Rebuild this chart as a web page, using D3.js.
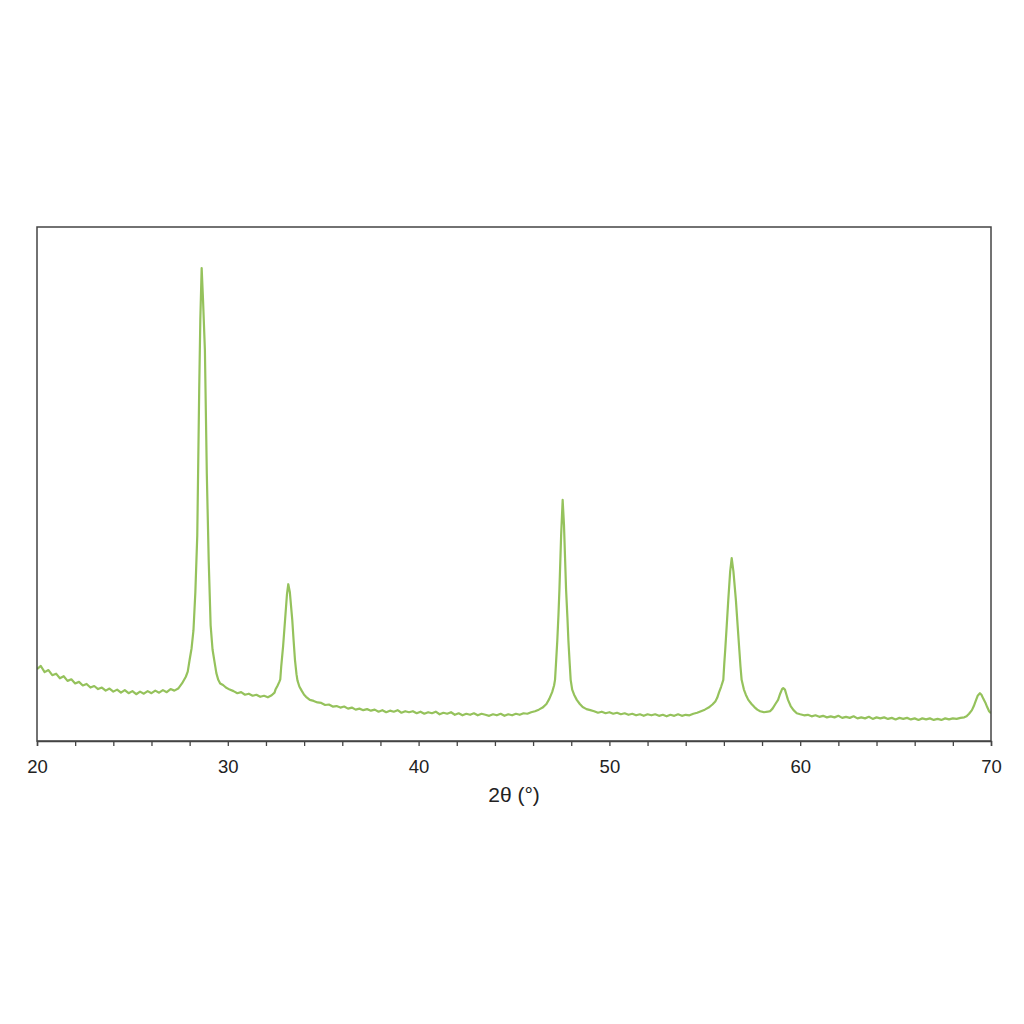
<!DOCTYPE html>
<html>
<head>
<meta charset="utf-8">
<script src="https://cdn.jsdelivr.net/npm/d3@7"></script>
<style>
  body { margin: 0; background: #fff; }
  svg { display: block; }
  text { font-family: "Liberation Sans", Arial, Helvetica, sans-serif; fill: #222; }
</style>
</head>
<body>
<svg id="chart" width="1024" height="1024"></svg>
<script>
// 2θ (degrees)
const twoTheta = [
  20.0,20.2,20.4,20.6,20.8,21.0,21.2,21.4,21.6,21.8,22.0,22.2,22.4,22.6,22.8,23.0,23.2,23.4,23.6,23.8,
  24.0,24.2,24.4,24.6,24.8,25.0,25.2,25.4,25.6,25.8,26.0,26.2,26.4,26.6,26.8,27.0,27.2,27.4,27.6,27.8,
  27.9,28.0,28.1,28.2,28.3,28.4,28.5,28.56,28.63,28.7,28.8,28.9,29.0,29.1,29.2,29.3,29.4,29.5,29.6,29.75,
  29.9,30.1,30.3,30.5,30.7,30.9,31.1,31.3,31.5,31.7,31.9,32.1,32.3,32.45,
  32.5,32.6,32.7,32.75,32.8,32.9,33.0,33.1,33.17,33.25,33.38,33.45,33.52,33.6,33.65,33.75,33.87,34.0,34.1,
  34.3,34.5,34.7,34.9,35.1,35.3,35.5,35.7,35.9,36.1,36.3,36.5,36.7,36.9,37.1,37.3,37.5,37.7,37.9,38.1,
  38.3,38.5,38.7,38.9,39.1,39.3,39.5,39.7,39.9,40.1,40.3,40.5,40.7,40.9,41.1,41.3,41.5,41.7,41.9,42.1,
  42.3,42.5,42.7,42.9,43.1,43.3,43.5,43.7,43.9,44.1,44.3,44.5,44.7,44.9,45.1,45.3,45.5,45.7,45.9,46.1,
  46.3,46.5,46.7,46.85,47.0,47.1,47.15,47.2,47.27,47.33,47.38,47.47,47.55,47.62,47.73,47.8,47.85,47.92,47.97,
  48.05,48.15,48.29,48.45,48.6,48.8,49.0,49.2,49.4,49.6,49.8,50.0,50.2,50.4,50.6,50.8,51.0,51.2,51.4,51.6,
  51.8,52.0,52.2,52.4,52.6,52.8,53.0,53.2,53.4,53.6,53.8,54.0,54.2,54.4,54.6,54.8,55.0,55.2,55.4,55.55,
  55.65,55.75,55.85,55.97,56.02,56.07,56.15,56.23,56.33,56.41,56.5,56.63,56.72,56.81,56.87,56.93,57.05,57.15,57.28,
  57.45,57.6,57.75,57.9,58.1,58.3,58.42,58.55,58.7,58.84,58.95,59.05,59.11,59.2,59.28,59.36,59.5,59.65,59.82,
  60.0,60.2,60.4,60.6,60.8,61.0,61.2,61.4,61.6,61.8,62.0,62.2,62.4,62.6,62.8,63.0,63.2,63.4,63.6,63.8,
  64.0,64.2,64.4,64.6,64.8,65.0,65.2,65.4,65.6,65.8,66.0,66.2,66.4,66.6,66.8,67.0,67.2,67.4,67.6,67.8,
  68.0,68.2,68.4,68.6,68.72,68.85,69.0,69.1,69.2,69.3,69.42,69.5,69.6,69.7,69.8,69.9,70.0
];
// intensity (arbitrary units)
const intensity = [
  140,146,134,138,128,131,122,126,117,120,112,115,108,111,104,107,101,104,98,102,
  96,100,94,99,93,97,91,96,92,97,93,98,94,99,95,101,98,102,112,125,
  135,158,180,215,290,400,680,820,920,860,760,520,350,225,178,155,132,119,112,109,
  104,100,97,93,95,90,92,88,90,86,88,85,89,94,
  100,107,115,120,145,185,235,285,305,290,235,195,158,130,118,106,98,90,86,
  80,78,75,74,70,71,67,68,65,67,63,65,61,63,60,62,59,61,57,60,
  56,59,57,60,55,58,56,58,54,57,53,56,54,57,52,55,53,56,51,54,
  50,53,51,54,50,53,51,49,52,50,53,49,52,50,53,51,54,53,56,58,
  61,65,72,82,95,108,119,150,196,245,294,400,469,420,294,240,196,150,119,
  100,90,80,72,66,62,60,58,55,57,54,56,53,55,52,54,51,53,50,52,
  49,52,50,52,49,51,48,51,49,52,49,51,50,53,55,58,61,65,71,77,
  84,95,105,119,150,177,225,274,330,356,330,274,225,177,145,119,100,90,80,
  72,66,61,58,56,57,58,63,72,80,92,101,103,100,90,80,68,60,54,
  52,50,51,48,50,47,49,46,48,46,49,45,47,45,48,44,46,44,47,43,
  46,44,46,43,45,42,45,43,45,42,44,41,44,42,44,41,43,41,44,42,
  44,43,45,46,48,53,60,68,78,88,93,90,82,75,66,58,54
];
const xTicks = [20,22,24,26,28,30,32,34,36,38,40,42,44,46,48,50,52,54,56,58,60,62,64,66,68,70];
const xLabels = [20,30,40,50,60,70];
const xTitle = "2θ (°)";

const data = twoTheta.map((t, i) => ({ t, v: intensity[i] }));

const svg = d3.select("#chart");
const mLeft = 37, mRight = 991, mTop = 227, mBottom = 741;

const x = d3.scaleLinear().domain([20, 70]).range([mLeft, mRight]);
const y = d3.scaleLinear().domain([0, 1000]).range([mBottom, mTop]);

// data line (clipped to plot)
svg.append("clipPath").attr("id", "clip")
  .append("rect").attr("x", mLeft).attr("y", mTop).attr("width", mRight - mLeft).attr("height", mBottom - mTop);

svg.append("path")
  .datum(data)
  .attr("clip-path", "url(#clip)")
  .attr("fill", "none")
  .attr("stroke", "#95c25c")
  .attr("stroke-width", 2.2)
  .attr("stroke-linejoin", "round")
  .attr("d", d3.line().x(d => x(d.t)).y(d => y(d.v)));

// frame
svg.append("rect")
  .attr("x", mLeft).attr("y", mTop)
  .attr("width", mRight - mLeft).attr("height", mBottom - mTop)
  .attr("fill", "none").attr("stroke", "#444").attr("stroke-width", 1.5);

// x axis
const axis = d3.axisBottom(x)
  .tickValues(xTicks)
  .tickSize(5)
  .tickPadding(14)
  .tickFormat(d => xLabels.includes(d) ? d : "");

const gx = svg.append("g")
  .attr("transform", `translate(0,${mBottom})`)
  .call(axis);
gx.select(".domain").attr("stroke", "#444").attr("stroke-width", 1.5);
gx.selectAll(".tick line").attr("stroke", "#444").attr("stroke-width", 1.3);
gx.selectAll(".tick text")
  .style("font-family", '"Liberation Sans", Arial, sans-serif')
  .style("font-size", "18.5px")
  .attr("fill", "#222");

svg.append("text")
  .attr("x", (mLeft + mRight) / 2)
  .attr("y", 802)
  .attr("text-anchor", "middle")
  .style("font-size", "21px")
  .text(xTitle);
</script>
</body>
</html>
